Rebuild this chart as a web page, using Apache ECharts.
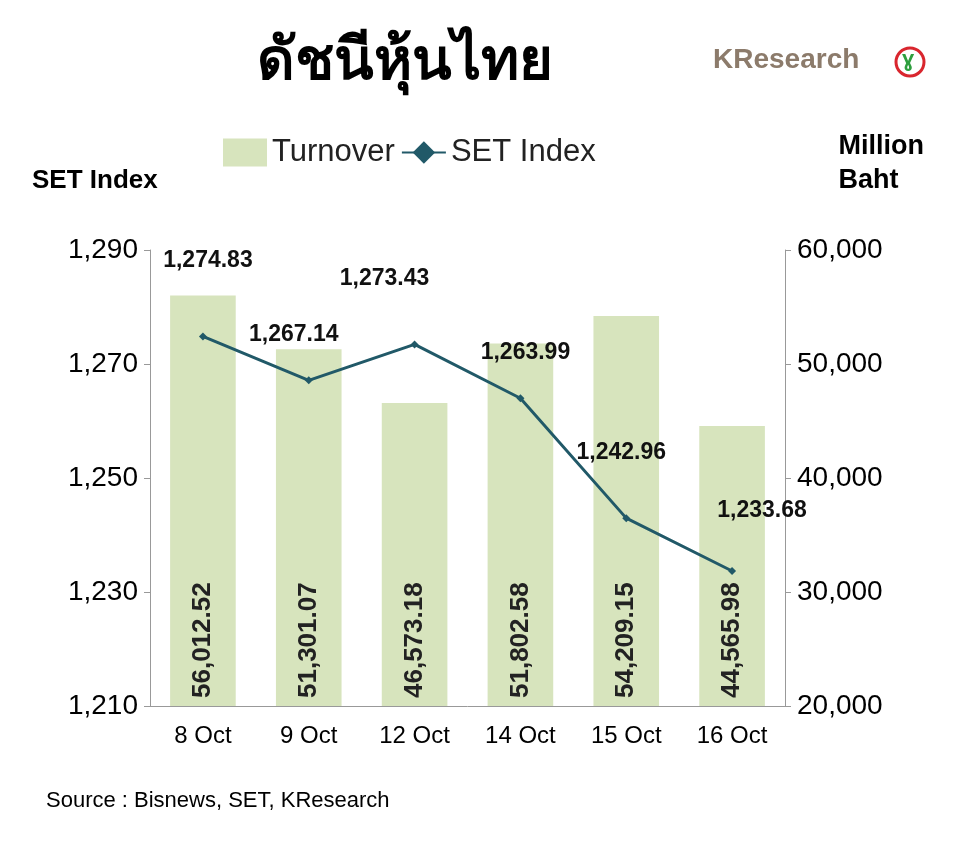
<!DOCTYPE html><html><head><meta charset="utf-8"><script src="https://cdn.jsdelivr.net/npm/echarts@6/dist/echarts.min.js"></script>
<style>body{margin:0;background:#fff}#c{width:960px;height:860px}</style></head><body><div id="c"></div><script>
const categories=['8 Oct','9 Oct','12 Oct','14 Oct','15 Oct','16 Oct'];
const turnover=[56012.52,51301.07,46573.18,51802.58,54209.15,44565.98];
const setIndex=[1274.83,1267.14,1273.43,1263.99,1242.96,1233.68];
const leftTicks=[1210,1290,20];
const rightTicks=[20000,60000,10000];
const fmt=(v,d)=>v.toLocaleString('en-US',{minimumFractionDigits:d,maximumFractionDigits:d});
const lblOff=[[5,-55],[-15,-25],[-30,-45],[5,-25],[-5,-45],[30,-40]];
const c=echarts.init(document.getElementById('c'));
c.setOption({
 textStyle:{fontFamily:'Liberation Sans'},
 title:{text:'ดัชนีหุ้นไทย',left:400,top:28,textAlign:'center',textStyle:{fontSize:58,fontWeight:'bold',color:'#000',fontFamily:'Noto Sans'}},
 graphic:[
  {type:'text',left:713,top:46,style:{text:'KResearch',fontSize:28,fontWeight:'bold',fill:'#8c7b6b',fontFamily:'Liberation Sans'}},
  {type:'circle',shape:{cx:910,cy:62,r:14},style:{fill:'#fff',stroke:'#d9262e',lineWidth:3}},
  {type:'text',left:902,top:49,style:{text:'ɣ',fontSize:22,fontWeight:'bold',fill:'#2e9e3e'}},
  {type:'text',left:32,top:168,style:{text:'SET Index',fontSize:26,fontWeight:'bold',fill:'#000',fontFamily:'Liberation Sans'}},
  {type:'text',right:36,top:130,style:{text:'Million\nBaht',fontSize:27,fontWeight:'bold',fill:'#000',align:'right',lineHeight:34,fontFamily:'Liberation Sans'}},
  {type:'text',left:46,top:790,style:{text:'Source : Bisnews, SET, KResearch',fontSize:22,fill:'#000',fontFamily:'Liberation Sans'}}
 ],
 legend:{top:132,left:218,itemGap:6,textStyle:{fontSize:31,color:'#222'},itemWidth:44,itemHeight:28,
  data:[{name:'Turnover',icon:'rect'},{name:'SET Index',itemStyle:{}}]},
 grid:{left:150,right:175,top:250,bottom:154},
 xAxis:{type:'category',data:categories,axisTick:{show:false},axisLine:{lineStyle:{color:'#999'}},axisLabel:{fontSize:24,color:'#000',margin:18}},
 yAxis:[
  {type:'value',min:leftTicks[0],max:leftTicks[1],interval:leftTicks[2],splitLine:{show:false},axisLine:{show:true,lineStyle:{color:'#999'}},axisTick:{show:true,length:6},axisLabel:{fontSize:28,color:'#000',margin:12,formatter:v=>fmt(v,0)}},
  {type:'value',min:rightTicks[0],max:rightTicks[1],interval:rightTicks[2],splitLine:{show:false},axisLine:{show:true,lineStyle:{color:'#999'}},axisTick:{show:true,length:6},axisLabel:{fontSize:28,color:'#000',margin:12,formatter:v=>fmt(v,0)}}
 ],
 series:[
  {name:'Turnover',type:'bar',yAxisIndex:1,data:turnover,barWidth:'62%',itemStyle:{color:'#d7e4bd'},
   label:{show:true,position:'insideBottom',rotate:90,align:'left',verticalAlign:'middle',distance:8,fontSize:26,fontWeight:'bold',color:'#222',formatter:p=>fmt(p.value,2)}},
  {name:'SET Index',type:'line',yAxisIndex:0,z:5,symbol:'diamond',symbolSize:8,lineStyle:{color:'#215968',width:3},itemStyle:{color:'#215968'},
   data:setIndex.map((v,i)=>({value:v,label:{offset:lblOff[i]}})),
   label:{show:true,position:'top',fontSize:23,fontWeight:'bold',color:'#111',formatter:p=>fmt(p.value,2)}}
 ]
});
</script></body></html>
